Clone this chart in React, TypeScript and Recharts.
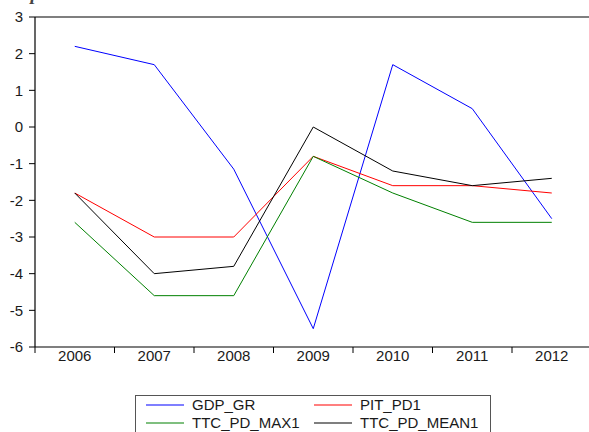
import { Line, LineChart, ReferenceLine, XAxis, YAxis } from 'recharts';

// values
const years = [2006, 2007, 2008, 2009, 2010, 2011, 2012];
const gdpGr = [2.2, 1.7, -1.15, -5.5, 1.7, 0.5, -2.5];
const pitPd1 = [-1.8, -3.0, -3.0, -0.8, -1.6, -1.6, -1.8];
const ttcPdMax1 = [-2.6, -4.6, -4.6, -0.8, -1.8, -2.6, -2.6];
const ttcPdMean1 = [-1.8, -4.0, -3.8, 0.0, -1.2, -1.6, -1.4];
const yTicks = [-6, -5, -4, -3, -2, -1, 0, 1, 2, 3];

const series = [
	{ key: 'GDP_GR', color: '#0000ff' },
	{ key: 'PIT_PD1', color: '#ff0000' },
	{ key: 'TTC_PD_MAX1', color: '#008000' },
	{ key: 'TTC_PD_MEAN1', color: '#000000' },
];

const data = years.map((year, i) => ({
	year,
	GDP_GR: gdpGr[i],
	PIT_PD1: pitPd1[i],
	TTC_PD_MAX1: ttcPdMax1[i],
	TTC_PD_MEAN1: ttcPdMean1[i],
}));

const CHART_W = 600;
const CHART_H = 432;
const Y_AXIS_W = 35;
const MARGIN = { top: 17, right: 8.5, left: 0, bottom: 0 };
const BAND = (CHART_W - Y_AXIS_W - MARGIN.left - MARGIN.right) / years.length;
const FONT = '"Liberation Sans", Arial, sans-serif';

// tick mark sits on the category boundary, label in the middle of the band
const YearTick = (props: any) => {
	const { x, y, payload } = props;
	const lx = x - BAND / 2;
	return (
		<g>
			<line x1={lx} x2={lx} y1={y} y2={y + 6} stroke="#000" />
			<text
				x={x}
				y={y + 3}
				dy="0.71em"
				textAnchor="middle"
				fontSize={15}
				fontFamily={FONT}
				fill="#1a1a1a"
			>
				{payload.value}
			</text>
		</g>
	);
};

const LegendBox = () => (
	<div
		style={{
			position: 'absolute',
			left: 135,
			top: 395,
			border: '1px solid #555',
			borderBottom: 'none',
			width: 356,
			height: 40,
			boxSizing: 'border-box',
			display: 'grid',
			gridTemplateColumns: '168px 188px',
			gridAutoRows: '18px',
			fontFamily: FONT,
			fontSize: 15,
			color: '#1a1a1a',
			background: '#fff',
		}}
	>
		{series.map((s) => (
			<div key={s.key} style={{ display: 'flex', alignItems: 'center', lineHeight: '18px' }}>
				<svg width={56} height={18} style={{ flex: 'none' }}>
					<line x1={10} x2={48} y1={9} y2={9} stroke={s.color} strokeWidth={1.2} />
				</svg>
				<span>{s.key}</span>
			</div>
		))}
	</div>
);

const App = () => {
	return (
		<div
			style={{
				position: 'absolute',
				left: 0,
				top: 0,
				width: 589,
				height: 432,
				overflow: 'hidden',
				background: '#fff',
			}}
		>
			<div
				style={{
					position: 'absolute',
					left: 0,
					top: -17,
					whiteSpace: 'nowrap',
					fontFamily: '"Liberation Serif", "Times New Roman", serif',
					fontStyle: 'italic',
					fontWeight: 'bold',
					fontSize: 19,
					color: '#444',
				}}
			>
				Graph 3: PIT and TTC PD with Macroeconomic data GDP
			</div>
			<LineChart width={CHART_W} height={CHART_H} data={data} margin={MARGIN}>
				<XAxis
					dataKey="year"
					type="number"
					domain={[years[0] - 0.5, years[years.length - 1] + 0.5]}
					ticks={years}
					interval={0}
					height={CHART_H - 347 - MARGIN.bottom}
					axisLine={{ stroke: '#000', strokeWidth: 1.2 }}
					tickLine={false}
					tickSize={0}
					tickMargin={0}
					tick={<YearTick />}
				/>
				<YAxis
					domain={[-6, 3]}
					ticks={yTicks}
					interval={0}
					width={Y_AXIS_W}
					axisLine={{ stroke: '#000', strokeWidth: 1.2 }}
					tickLine={{ stroke: '#000' }}
					tickSize={6}
					tickMargin={6}
					tick={{ fill: '#1a1a1a', fontSize: 15, fontFamily: FONT }}
				/>
				<ReferenceLine y={3} stroke="#000" strokeWidth={1.2} />
				{series.map((s) => (
					<Line
						key={s.key}
						type="linear"
						dataKey={s.key}
						stroke={s.color}
						strokeWidth={1}
						dot={false}
						isAnimationActive={false}
					/>
				))}
			</LineChart>
			<LegendBox />
		</div>
	);
};

export default App;
